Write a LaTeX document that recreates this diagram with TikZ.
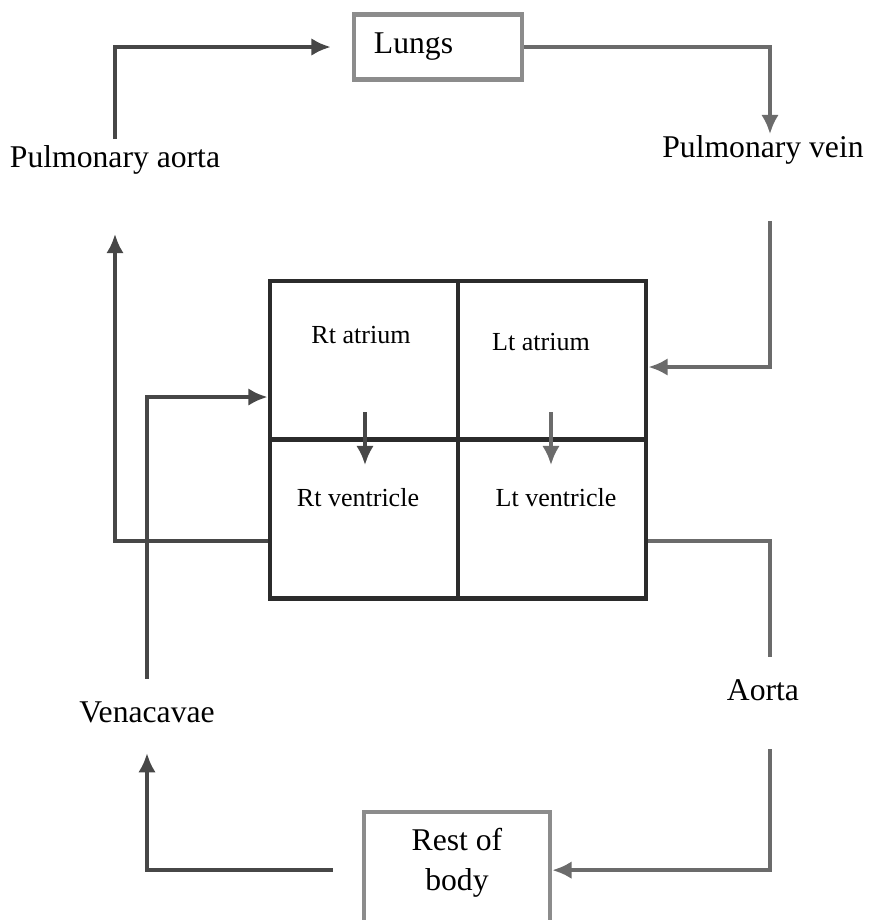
\documentclass[tikz,border=0pt]{standalone}
\usepackage{fontspec}
\setmainfont{Liberation Serif}
\usetikzlibrary{arrows.meta, positioning}

\begin{document}
\begin{tikzpicture}[x=0.01cm, y=-0.01cm, >={Latex[length=5.5pt,width=5pt]},
    dark/.style={draw=black!72, line width=1.15pt},
    pale/.style={draw=black!58, line width=1.15pt},
    organ/.style={draw=black!45, line width=1.2pt, inner sep=0pt},
    chamber/.style={draw=black!83, line width=1.3pt, minimum width=1.88cm, minimum height=1.59cm, inner sep=0pt},
    lbl/.style={font=\fontsize{9}{11.4}\selectfont},
    small/.style={font=\fontsize{7.4}{9}\selectfont}]
    \useasboundingbox (0,0) rectangle (870,920);
    \clip (0,0) rectangle (870,920);

    % Tim: bon ngan
    \node[chamber] (ra) at (364,360.5) {};
    \node[chamber] (la) at (552,360.5) {};
    \node[chamber] (rv) at (364,519) {};
    \node[chamber] (lv) at (552,519) {};
    \node[small] (ratxt) at (361,335) {Rt atrium};
    \node[small] (latxt) at (541,342) {Lt atrium};
    \node[small] (rvtxt) at (358,498) {Rt ventricle};
    \node[small] (lvtxt) at (556,498) {Lt ventricle};

    % Phoi va co the
    \node[organ, lbl, minimum height=0.65cm, text width=1.28cm, inner xsep=0.2cm, align=left] (lungs) at (438,47) {Lungs};
    \node[organ, minimum width=1.86cm, minimum height=1.16cm, anchor=north] (body) at (457,810) {};
    \node[lbl, align=center, below=0.06cm of body.north] (bodytxt) {Rest of\\body};

    % Ten mach mau
    \node[lbl] (paorta) at (115,160) {Pulmonary aorta};
    \node[lbl] (pvein) at (763,150) {Pulmonary vein};
    \node[lbl] (aorta) at (763,690) {Aorta};
    \node[lbl] (vcava) at (147,712) {Venacavae};

    % Vong tuan hoan nho
    \draw[dark, ->] ([yshift=-0.22cm]rv.west) -| ([yshift=-0.47cm]paorta.south);
    \draw[dark, ->] ([yshift=-0.06cm]paorta.north) |- ([xshift=-0.21cm]lungs.west);
    \draw[pale, ->] (lungs.east) -| ([xshift=0.07cm, yshift=-0.11cm]pvein.north);
    \draw[pale, ->] ([xshift=0.07cm, yshift=-0.44cm]pvein.south) |- ([yshift=-0.065cm]la.east);

    % Trong tim
    \draw[dark, ->] ([xshift=0.01cm, yshift=0.3cm]ra.south) -- ([xshift=0.01cm, yshift=-0.28cm]rv.north);
    \draw[pale, ->] ([xshift=-0.01cm, yshift=0.3cm]la.south) -- ([xshift=-0.01cm, yshift=-0.28cm]lv.north);

    % Vong tuan hoan lon
    \draw[pale] ([yshift=-0.22cm]lv.east) -| ([xshift=0.07cm, yshift=0.1cm]aorta.north);
    \draw[pale, ->] ([xshift=0.07cm, yshift=-0.36cm]aorta.south) |- (body.east);
    \draw[dark, ->] ([xshift=-0.29cm]body.west) -| ([yshift=-0.18cm]vcava.south);
    \draw[dark, ->] ([yshift=0.1cm]vcava.north) |- ([yshift=-0.365cm]ra.west);
\end{tikzpicture}
\end{document}
